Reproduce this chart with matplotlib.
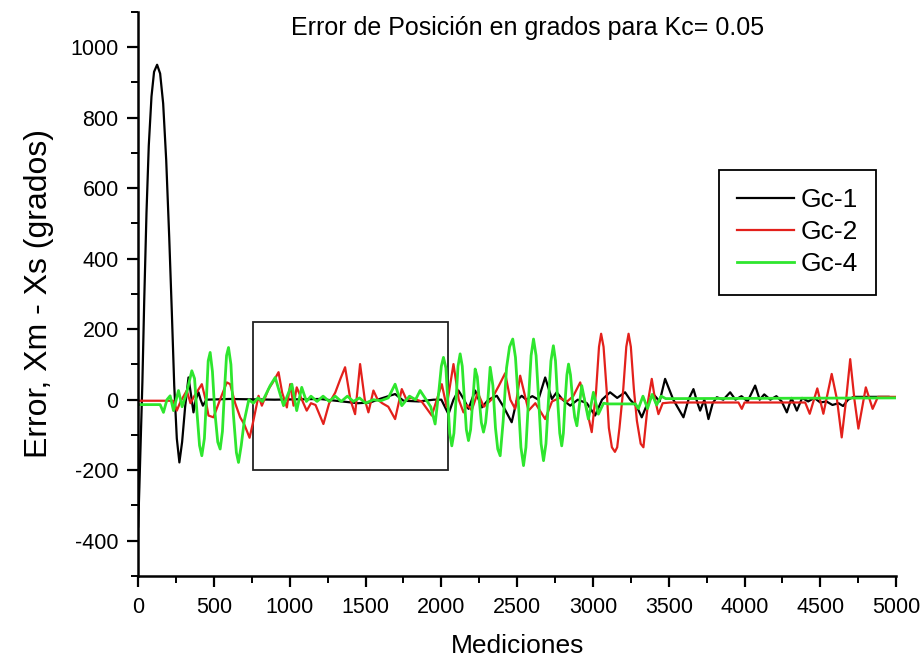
# Error de posición - Gc-1, Gc-2, Gc-4 (Kc = 0.05)
import matplotlib
matplotlib.use("Agg")
import matplotlib.pyplot as plt
from matplotlib.patches import Rectangle
from matplotlib.ticker import MultipleLocator

plt.rcParams["axes.unicode_minus"] = False

# ---- data (x = medicion, y = error en grados) ----
gc1_x = [0, 8, 18, 28, 40, 55, 70, 88, 105, 125, 145, 165, 185, 205, 222, 238, 255,
         272, 290, 310, 332, 350, 365, 380, 398, 412, 427, 450, 600, 900, 1200,
         1450, 1530, 1600, 1695, 1750, 1850, 1950, 2000, 2047, 2080, 2113, 2150,
         2179, 2223, 2267, 2310, 2366, 2410, 2464, 2497, 2530, 2560, 2600, 2640,
         2685, 2729, 2761, 2800, 2850, 2900, 2960, 3014, 3060, 3113, 3160, 3212,
         3245, 3290, 3322, 3360, 3400, 3440, 3476, 3530, 3570, 3597, 3630, 3663,
         3690, 3707, 3735, 3762, 3790, 3817, 3860, 3905, 3940, 3980, 4020, 4070,
         4100, 4130, 4170, 4210, 4245, 4279, 4310, 4345, 4380, 4420, 4460, 4500,
         4540, 4580, 4620, 4650, 4683, 4720, 4950]
gc1_y = [-360, -250, -100, 50, 280, 530, 720, 860, 930, 950, 925, 840, 680, 460, 250,
         40, -110, -178, -120, -20, 63, 10, -36, 0, 21, 0, -17, 0, 2, 0, 2,
         -10, -8, 3, 16, -3, -5, 0, 0, -41, 0, 26, 0,
         -26, 26, -22, 0, 11, -20, -64, -3, 11, 0, 10, 0,
         63, 2, 21, 0, -17, 0, -10, -45, 0, 21, 5, 21,
         0, -20, -50, -10, 15, -5, 59, 0, -30, -50, 0, 30,
         -10, -31, 0, -55, -10, 7, 0, 21, 0, 10, -5, 40,
         0, 15, 0, 10, -5, -36, 5, -31, 5, -5, 5, -8,
         -5, -15, -10, -18, 0, 8, 8]

gc2_x = [0, 230, 255, 280, 321, 345, 370, 420, 445, 464, 497, 540, 585, 607, 640,
         673, 700, 735, 760, 794, 816, 860, 890, 926, 950, 981, 1003, 1025, 1046,
         1080, 1112, 1140, 1170, 1222, 1260, 1300, 1335, 1365, 1400, 1431, 1464,
         1495, 1519, 1552, 1580, 1610, 1650, 1695, 1739, 1770, 1800, 1870, 1937,
         1970, 2003, 2035, 2080, 2115, 2146, 2170, 2200, 2240, 2280, 2330, 2380,
         2421, 2455, 2487, 2520, 2575, 2620, 2685, 2730, 2780, 2830, 2870, 2916,
         2950, 2992, 3020, 3040, 3054, 3070, 3090, 3105, 3125, 3145, 3160, 3175,
         3200, 3220, 3235, 3250, 3270, 3290, 3315, 3333, 3365, 3388, 3410, 3432,
         3460, 3510, 3960, 3982, 4000, 4400, 4430, 4480, 4520, 4575, 4610, 4641,
         4670, 4697, 4725, 4751, 4800, 4845, 4880, 5000]
gc2_y = [-3, -3, -31, -5, 26, -10, 10, 44, 0, -45, -50, 0, 49, 44, -10,
         -50, -70, -108, -60, 11, -17, 30, 50, 78, 20, -22, 44, -17, 35,
         0, -31, -10, -15, -69, -10, 20, 60, 92, 0, -41, 101,
         0, -36, 26, 0, -10, -20, -55, 30, 0, 5, -5, -45,
         0, 44, -20, 101, 0, -36, -15, -30, 20, -20, 0, 40,
         75, 0, -26, 68, -31, -10, -55, -5, 5, -5, 10, 49,
         -10, -92, 20, 150, 187, 150, 30, -80, -135, -148, -135, -80,
         30, 150, 187, 150, 30, -60, -125, -135, 0, 59, 0, -41,
         -10, -8, -8, -26, -8, -8, -40, 32, -40, 73, 0, -107,
         0, 115, 0, -82, 35, -26, 8, 8]

gc4_x = [0, 145, 167, 190, 211, 233, 266, 290, 320, 354, 372, 387, 405, 420, 437,
         450, 462, 475, 490, 505, 525, 541, 556, 570, 583, 596, 612, 628, 648,
         662, 680, 700, 730, 760, 790, 820, 871, 904, 959, 1014, 1046, 1079, 1110,
         1140, 1180, 1220, 1260, 1300, 1340, 1380, 1420, 1460, 1500, 1550, 1600,
         1650, 1695, 1739, 1790, 1830, 1860, 1900, 1930, 1959, 1985, 2000, 2014,
         2030, 2042, 2055, 2069, 2083, 2097, 2110, 2124, 2138, 2152, 2165, 2179,
         2193, 2208, 2223, 2237, 2250, 2264, 2278, 2292, 2307, 2322, 2340, 2357,
         2372, 2388, 2408, 2430, 2450, 2471, 2489, 2507, 2525, 2542, 2558, 2575,
         2592, 2608, 2625, 2642, 2658, 2674, 2690, 2707, 2723, 2739, 2753, 2767,
         2781, 2794, 2805, 2817, 2828, 2839, 2852, 2866, 2880, 2894, 2926, 2970,
         3003, 3036, 3070, 3100, 3280, 3300, 3330, 3360, 3390, 3420, 3450, 3480,
         5000]
gc4_y = [-14, -14, -36, 0, 11, -31, 26, -20, 20, 82, 60, -30, -130, -159, -110,
         0, 110, 134, 80, -30, -120, -140, -90, 30, 125, 148, 100, -40, -150,
         -178, -130, -60, 0, -10, 5, -5, 40, 63, -17, 44, -31, 35, -5,
         10, -5, 10, -5, 10, -5, 10, -5, 5, -10, 0, -3,
         5, 44, -17, 10, 0, 26, 0, -20, -69, 30, 95, 120,
         90, 0, -95, -131, -95, 0, 95, 130, 95, 0, -85, -116,
         -85, 0, 87, 65, 0, -65, -92, -65, 0, 92, 40, -80,
         -140, -159, -60, 90, 150, 172, 120, 0, -135, -187, -135, 0,
         125, 172, 125, 0, -125, -173, -125, 0, 110, 153, 110, 0,
         -95, -131, -95, 0, 70, 101, 70, 0, -50, -74, 40, -55,
         21, -41, -10, -12, -12, -25, 10, -25, 15, -15, 10, 3,
         5]

labels = ["Gc-1", "Gc-2", "Gc-4"]
colors = ["black", "#e3201b", "#2ee62e"]

# zoom box drawn on the reference (data coords)
box_x0, box_x1 = 760, 2045
box_y0, box_y1 = -200, 221

arial = ["Liberation Sans", "DejaVu Sans"]


def main():
    fig = plt.figure(figsize=(9.21, 6.59), dpi=100)
    ax = fig.add_axes([0.150, 0.126, 0.823, 0.856])

    ax.plot(gc1_x, gc1_y, color=colors[0], lw=1.6, label=labels[0])
    ax.plot(gc2_x, gc2_y, color=colors[1], lw=1.6, label=labels[1])
    ax.plot(gc4_x, gc4_y, color=colors[2], lw=2.0, label=labels[2])

    ax.add_patch(Rectangle((box_x0, box_y0), box_x1 - box_x0, box_y1 - box_y0,
                           fill=False, ec="#222222", lw=1.3))

    ax.set_xlim(0, 5000)
    ax.set_ylim(-500, 1100)
    ax.xaxis.set_major_locator(MultipleLocator(500))
    ax.xaxis.set_minor_locator(MultipleLocator(250))
    ax.yaxis.set_major_locator(MultipleLocator(200))
    ax.yaxis.set_minor_locator(MultipleLocator(100))

    for s in ["top", "right"]:
        ax.spines[s].set_visible(False)
    for s in ["left", "bottom"]:
        ax.spines[s].set_linewidth(1.8)
    ax.tick_params(which="major", direction="out", length=8, width=1.6)
    ax.tick_params(which="minor", direction="out", length=5, width=1.4)
    ax.tick_params(axis="y", which="major", pad=6)
    ax.tick_params(axis="x", which="major", pad=7)
    for lab in ax.get_xticklabels() + ax.get_yticklabels():
        lab.set_family(arial)
        lab.set_fontsize(15.5)

    ax.set_xlabel("Mediciones", family=arial, fontsize=19, labelpad=12)
    ax.set_ylabel("Error, Xm - Xs (grados)", family=arial, fontsize=23, labelpad=12)

    ax.text(0.514, 0.972, "Error de Posición en grados para Kc= 0.05",
            transform=ax.transAxes, ha="center", va="center",
            family=arial, fontsize=18)

    leg = ax.legend(loc="upper left", bbox_to_anchor=(0.766, 0.720),
                    prop={"family": arial, "size": 19}, fancybox=False,
                    edgecolor="black", framealpha=1, handlelength=2.15,
                    handletextpad=0.25, borderpad=0.7, labelspacing=0.3,
                    borderaxespad=0)
    leg.get_frame().set_linewidth(1.3)

    fig.savefig("out.png", dpi=100)


if __name__ == "__main__":
    main()
